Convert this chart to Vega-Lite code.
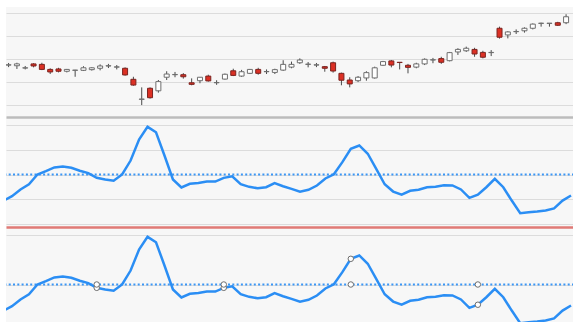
{
  "$schema": "https://vega.github.io/schema/vega-lite/v6.json",
  "padding": {"left": 5, "top": 7, "right": 0, "bottom": 0},
  "background": "#ffffff",
  "spacing": 0,
  "bounds": "flush",
  "config": {"view": {"fill": "#f7f7f7", "stroke": null}},
  "datasets": {
    "candles": [
      {"i": 0, "open": 117.5, "high": 118.4, "low": 116.6, "close": 117.6},
      {"i": 1, "open": 117.2, "high": 118.5, "low": 115.8, "close": 118.0},
      {"i": 2, "open": 116.2, "high": 117.1, "low": 115.6, "close": 116.3},
      {"i": 3, "open": 118.0, "high": 118.3, "low": 116.5, "close": 117.1},
      {"i": 4, "open": 117.8, "high": 118.5, "low": 115.3, "close": 115.6},
      {"i": 5, "open": 115.6, "high": 116.1, "low": 113.6, "close": 114.5},
      {"i": 6, "open": 115.8, "high": 116.3, "low": 114.3, "close": 114.8},
      {"i": 7, "open": 114.8, "high": 115.8, "low": 114.3, "close": 115.6},
      {"i": 8, "open": 115.2, "high": 115.4, "low": 112.4, "close": 115.3},
      {"i": 9, "open": 115.2, "high": 117.0, "low": 114.9, "close": 116.3},
      {"i": 10, "open": 115.5, "high": 116.6, "low": 115.1, "close": 116.3},
      {"i": 11, "open": 116.1, "high": 117.8, "low": 115.2, "close": 117.1},
      {"i": 12, "open": 117.1, "high": 118.0, "low": 116.2, "close": 117.2},
      {"i": 13, "open": 116.6, "high": 117.5, "low": 115.6, "close": 116.7},
      {"i": 14, "open": 116.1, "high": 116.5, "low": 112.9, "close": 113.2},
      {"i": 15, "open": 111.3, "high": 112.4, "low": 108.5, "close": 108.8},
      {"i": 16, "open": 102.6, "high": 107.8, "low": 100.1, "close": 102.7},
      {"i": 17, "open": 107.4, "high": 107.8, "low": 102.9, "close": 103.3},
      {"i": 18, "open": 106.3, "high": 111.0, "low": 105.5, "close": 110.3},
      {"i": 19, "open": 112.2, "high": 114.8, "low": 111.0, "close": 113.6},
      {"i": 20, "open": 113.3, "high": 114.5, "low": 112.2, "close": 113.4},
      {"i": 21, "open": 113.3, "high": 114.0, "low": 111.6, "close": 112.4},
      {"i": 22, "open": 109.8, "high": 111.7, "low": 108.7, "close": 109.1},
      {"i": 23, "open": 110.7, "high": 112.3, "low": 109.6, "close": 112.2},
      {"i": 24, "open": 112.7, "high": 113.3, "low": 110.3, "close": 110.6},
      {"i": 25, "open": 109.8, "high": 110.9, "low": 108.9, "close": 109.9},
      {"i": 26, "open": 111.4, "high": 113.8, "low": 111.2, "close": 113.5},
      {"i": 27, "open": 115.0, "high": 115.9, "low": 112.7, "close": 113.0},
      {"i": 28, "open": 112.7, "high": 115.4, "low": 112.4, "close": 114.6},
      {"i": 29, "open": 113.9, "high": 115.8, "low": 113.6, "close": 115.6},
      {"i": 30, "open": 115.6, "high": 116.3, "low": 113.3, "close": 113.9},
      {"i": 31, "open": 114.6, "high": 115.6, "low": 113.6, "close": 114.7},
      {"i": 32, "open": 114.3, "high": 115.9, "low": 113.6, "close": 115.5},
      {"i": 33, "open": 115.3, "high": 119.6, "low": 115.0, "close": 117.8},
      {"i": 34, "open": 116.6, "high": 119.0, "low": 116.1, "close": 117.8},
      {"i": 35, "open": 118.5, "high": 120.4, "low": 118.0, "close": 119.7},
      {"i": 36, "open": 117.8, "high": 118.8, "low": 116.5, "close": 117.9},
      {"i": 37, "open": 117.5, "high": 118.4, "low": 116.6, "close": 117.6},
      {"i": 38, "open": 116.8, "high": 117.1, "low": 114.6, "close": 116.1},
      {"i": 39, "open": 118.5, "high": 119.0, "low": 114.2, "close": 114.9},
      {"i": 40, "open": 113.9, "high": 114.2, "low": 108.7, "close": 110.9},
      {"i": 41, "open": 111.0, "high": 112.2, "low": 107.8, "close": 109.3},
      {"i": 42, "open": 110.7, "high": 112.7, "low": 110.1, "close": 112.2},
      {"i": 43, "open": 111.9, "high": 114.8, "low": 110.7, "close": 114.2},
      {"i": 44, "open": 111.9, "high": 116.8, "low": 111.6, "close": 116.3},
      {"i": 45, "open": 117.4, "high": 119.3, "low": 117.1, "close": 119.0},
      {"i": 46, "open": 119.3, "high": 119.7, "low": 116.5, "close": 117.5},
      {"i": 47, "open": 118.7, "high": 118.8, "low": 115.6, "close": 118.6},
      {"i": 48, "open": 117.4, "high": 118.0, "low": 113.9, "close": 116.5},
      {"i": 49, "open": 116.6, "high": 118.5, "low": 116.1, "close": 118.0},
      {"i": 50, "open": 118.0, "high": 120.4, "low": 117.5, "close": 120.0},
      {"i": 51, "open": 119.7, "high": 120.6, "low": 118.3, "close": 119.8},
      {"i": 52, "open": 120.3, "high": 121.1, "low": 118.0, "close": 118.7},
      {"i": 53, "open": 119.4, "high": 123.2, "low": 119.1, "close": 122.9},
      {"i": 54, "open": 123.2, "high": 124.8, "low": 121.9, "close": 124.3},
      {"i": 55, "open": 123.7, "high": 125.5, "low": 123.2, "close": 124.8},
      {"i": 56, "open": 124.3, "high": 125.0, "low": 121.1, "close": 122.3},
      {"i": 57, "open": 123.0, "high": 123.7, "low": 120.4, "close": 120.9},
      {"i": 58, "open": 122.9, "high": 124.0, "low": 121.4, "close": 123.0},
      {"i": 59, "open": 133.5, "high": 134.2, "low": 129.0, "close": 129.6},
      {"i": 60, "open": 130.6, "high": 132.2, "low": 129.1, "close": 131.9},
      {"i": 61, "open": 132.0, "high": 133.0, "low": 131.0, "close": 132.1},
      {"i": 62, "open": 132.4, "high": 133.9, "low": 131.6, "close": 133.5},
      {"i": 63, "open": 133.5, "high": 135.6, "low": 133.0, "close": 135.3},
      {"i": 64, "open": 135.6, "high": 135.9, "low": 134.2, "close": 135.7},
      {"i": 65, "open": 135.6, "high": 135.7, "low": 134.2, "close": 135.7},
      {"i": 66, "open": 135.9, "high": 136.3, "low": 134.5, "close": 134.8},
      {"i": 67, "open": 135.9, "high": 139.6, "low": 135.3, "close": 138.5}
    ],
    "osc": [
      {"i": 0, "v": 18.9}, {"i": 1, "v": 22.4}, {"i": 2, "v": 27.9}, {"i": 3, "v": 32.1},
      {"i": 4, "v": 40.0}, {"i": 5, "v": 42.7}, {"i": 6, "v": 45.7}, {"i": 7, "v": 46.5},
      {"i": 8, "v": 45.4}, {"i": 9, "v": 43.0}, {"i": 10, "v": 41.1}, {"i": 11, "v": 37.3},
      {"i": 12, "v": 36.0}, {"i": 13, "v": 34.9}, {"i": 14, "v": 40.0}, {"i": 15, "v": 51.3},
      {"i": 16, "v": 68.3}, {"i": 17, "v": 78.6}, {"i": 18, "v": 74.2}, {"i": 19, "v": 55.4},
      {"i": 20, "v": 36.0}, {"i": 21, "v": 29.5}, {"i": 22, "v": 32.5}, {"i": 23, "v": 33.1},
      {"i": 24, "v": 34.3}, {"i": 25, "v": 34.3}, {"i": 26, "v": 37.3}, {"i": 27, "v": 38.6},
      {"i": 28, "v": 32.1}, {"i": 29, "v": 30.0}, {"i": 30, "v": 28.9}, {"i": 31, "v": 29.7},
      {"i": 32, "v": 33.0}, {"i": 33, "v": 30.5}, {"i": 34, "v": 28.4}, {"i": 35, "v": 26.0},
      {"i": 36, "v": 27.6}, {"i": 37, "v": 31.1}, {"i": 38, "v": 36.8}, {"i": 39, "v": 40.2},
      {"i": 40, "v": 50.0}, {"i": 41, "v": 60.8}, {"i": 42, "v": 63.5}, {"i": 43, "v": 56.8},
      {"i": 44, "v": 44.6}, {"i": 45, "v": 32.1}, {"i": 46, "v": 26.2}, {"i": 47, "v": 23.6},
      {"i": 48, "v": 26.8}, {"i": 49, "v": 27.6}, {"i": 50, "v": 29.7}, {"i": 51, "v": 30.0},
      {"i": 52, "v": 31.3}, {"i": 53, "v": 31.1}, {"i": 54, "v": 27.9}, {"i": 55, "v": 21.1},
      {"i": 56, "v": 23.6}, {"i": 57, "v": 29.7}, {"i": 58, "v": 36.5}, {"i": 59, "v": 29.7},
      {"i": 60, "v": 18.9}, {"i": 61, "v": 8.7}, {"i": 62, "v": 9.5}, {"i": 63, "v": 10.0},
      {"i": 64, "v": 10.8}, {"i": 65, "v": 12.5}, {"i": 66, "v": 18.9}, {"i": 67, "v": 23.0}
    ],
    "levels": [{"level": 40}],
    "cycles": [
      {"i": 11, "v": 37.3}, {"i": 11, "v": 40},
      {"i": 26, "v": 37.3}, {"i": 26, "v": 40},
      {"i": 41, "v": 60.8}, {"i": 41, "v": 40},
      {"i": 56, "v": 23.6}, {"i": 56, "v": 40}
    ]
  },
  "vconcat": [
    {
      "width": 568,
      "height": 109.5,
      "data": {"name": "candles"},
      "layer": [
        {
          "mark": {"type": "rule", "color": "#4a4a4a", "strokeWidth": 1, "clip": true},
          "encoding": {
            "x": {"field": "i", "type": "quantitative", "scale": {"domain": [0.29, 67.35], "nice": false, "zero": false}, "axis": null},
            "y": {"field": "low", "type": "quantitative", "scale": {"domain": [95.13, 142.74], "nice": false, "zero": false},
                  "axis": {"values": [100, 110, 120, 130, 140], "grid": true, "gridColor": "#dcdcdc", "labels": false, "ticks": false, "domain": false, "title": null}},
            "y2": {"field": "high"}
          }
        },
        {
          "mark": {"type": "bar", "size": 5, "strokeWidth": 1, "clip": true},
          "encoding": {
            "x": {"field": "i", "type": "quantitative", "scale": {"domain": [0.29, 67.35], "nice": false, "zero": false}, "axis": null},
            "y": {"field": "open", "type": "quantitative", "scale": {"domain": [95.13, 142.74], "nice": false, "zero": false},
                  "axis": {"values": [100, 110, 120, 130, 140], "grid": true, "gridColor": "#dcdcdc", "labels": false, "ticks": false, "domain": false, "title": null}},
            "y2": {"field": "close"},
            "fill": {"condition": {"test": "datum.close < datum.open", "value": "#dc3024"}, "value": "#ffffff"},
            "stroke": {"condition": {"test": "datum.close < datum.open", "value": "#7a2420"}, "value": "#6e6e6e"}
          }
        }
      ]
    },
    {
      "width": 568,
      "height": 110,
      "layer": [
        {
          "data": {"name": "levels"},
          "mark": {"type": "rule", "color": "#3a96f5", "strokeWidth": 2, "strokeDash": [2, 2.3]},
          "encoding": {
            "y": {"field": "level", "type": "quantitative", "scale": {"domain": [-2.51, 86.56], "nice": false, "zero": false},
                  "axis": {"values": [0, 20, 40, 60, 80], "grid": true, "gridColor": "#dcdcdc", "labels": false, "ticks": false, "domain": false, "title": null}}
          }
        },
        {
          "data": {"name": "osc"},
          "mark": {"type": "line", "color": "#2b8ef4", "strokeWidth": 2.5, "clip": true},
          "encoding": {
            "x": {"field": "i", "type": "quantitative", "scale": {"domain": [0.29, 67.35], "nice": false, "zero": false},
                  "axis": {"orient": "top", "labels": false, "ticks": false, "grid": false, "title": null, "domainColor": "#bcbcbc", "domainWidth": 2.5}},
            "y": {"field": "v", "type": "quantitative", "scale": {"domain": [-2.51, 86.56], "nice": false, "zero": false},
                  "axis": {"values": [0, 20, 40, 60, 80], "grid": true, "gridColor": "#dcdcdc", "labels": false, "ticks": false, "domain": false, "title": null}}
          }
        }
      ]
    },
    {
      "width": 568,
      "height": 110,
      "layer": [
        {
          "data": {"name": "levels"},
          "mark": {"type": "rule", "color": "#3a96f5", "strokeWidth": 2, "strokeDash": [2, 2.3]},
          "encoding": {
            "y": {"field": "level", "type": "quantitative", "scale": {"domain": [-2.51, 86.56], "nice": false, "zero": false},
                  "axis": {"values": [0, 20, 40, 60, 80], "grid": true, "gridColor": "#dcdcdc", "labels": false, "ticks": false, "domain": false, "title": null}}
          }
        },
        {
          "data": {"name": "osc"},
          "mark": {"type": "line", "color": "#2b8ef4", "strokeWidth": 2.5, "clip": true},
          "encoding": {
            "x": {"field": "i", "type": "quantitative", "scale": {"domain": [0.29, 67.35], "nice": false, "zero": false},
                  "axis": {"orient": "top", "labels": false, "ticks": false, "grid": false, "title": null, "domainColor": "#e07a76", "domainWidth": 2.5}},
            "y": {"field": "v", "type": "quantitative", "scale": {"domain": [-2.51, 86.56], "nice": false, "zero": false},
                  "axis": {"values": [0, 20, 40, 60, 80], "grid": true, "gridColor": "#dcdcdc", "labels": false, "ticks": false, "domain": false, "title": null}}
          }
        },
        {
          "data": {"name": "cycles"},
          "mark": {"type": "point", "filled": true, "fill": "#ffffff", "stroke": "#6e6e6e", "strokeWidth": 1, "size": 30, "opacity": 1, "clip": true},
          "encoding": {
            "x": {"field": "i", "type": "quantitative", "scale": {"domain": [0.29, 67.35], "nice": false, "zero": false}},
            "y": {"field": "v", "type": "quantitative", "scale": {"domain": [-2.51, 86.56], "nice": false, "zero": false}}
          }
        }
      ]
    }
  ]
}
